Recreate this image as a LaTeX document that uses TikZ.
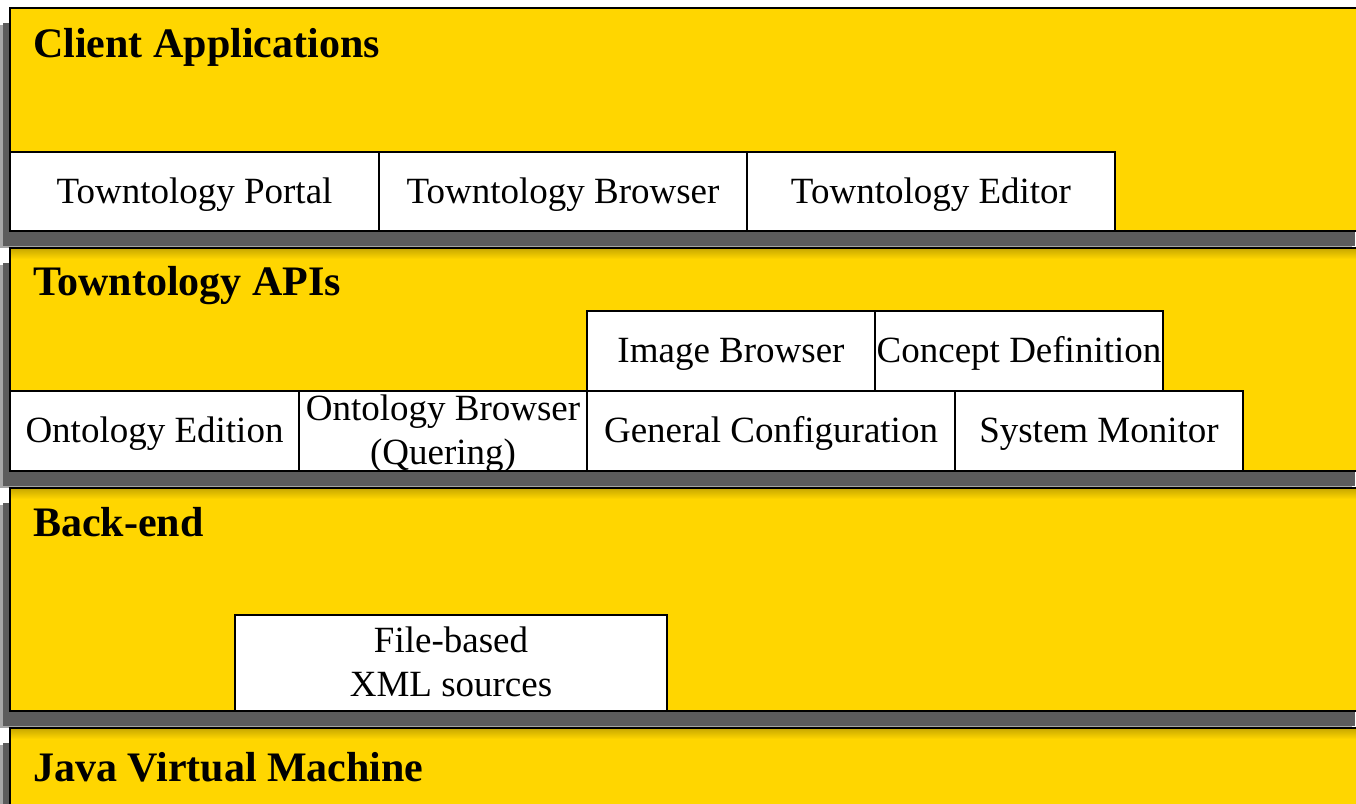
\documentclass[tikz,border=0pt]{standalone}
\usepackage{fontspec}
\setmainfont{Liberation Serif}
\usetikzlibrary{shadows}
\definecolor{layeryellow}{RGB}{255,214,0}
\tikzstyle{layer} = [draw=black, line width=1.6pt, fill=layeryellow, anchor=north west, inner sep=0pt, outer sep=0pt,
    drop shadow={shadow xshift=-10pt, shadow yshift=-17pt, fill=black!35, opacity=1},
    drop shadow={shadow xshift=-7pt, shadow yshift=-15pt, fill=black!64, opacity=1}]
\tikzstyle{module} = [draw=black, line width=1.6pt, fill=white, anchor=north west, inner sep=0pt, outer sep=0pt,
    align=center, text height=28pt, text depth=5pt, font=\fontsize{37}{44}\selectfont]
\tikzstyle{twolines} = [text height=72pt]
\tikzstyle{title} = [anchor=base west, inner sep=0pt, font=\fontsize{42}{50}\selectfont\bfseries]
\newcommand{\topshade}[1]{\shade[top color=layeryellow!80!black, bottom color=layeryellow] ([xshift=1pt,yshift=-1pt]#1.north west) rectangle ([xshift=-1pt,yshift=-11pt]#1.north east);}

\begin{document}
\begin{tikzpicture}[x=1pt, y=-1pt]
            \useasboundingbox (0,0) rectangle (1356,803);
            \clip (0,0) rectangle (1356,803);
            \fill[white] (0,0) rectangle (1356,803);
            % layers
            \node[layer, minimum width=1352, minimum height=223] (client) at (10,8) {};
            \node[title] (clienttitle) at (33,57) {Client Applications};
            \node[module, minimum width=369, minimum height=79] (portal) at (10,152) {Towntology Portal};
            \node[module, minimum width=368, minimum height=79] (browser) at (379,152) {Towntology Browser};
            \node[module, minimum width=368, minimum height=79] (editor) at (747,152) {Towntology Editor};

            \node[layer, minimum width=1352, minimum height=223] (apis) at (10,248) {};
            \topshade{apis}
            \node[title] (apistitle) at (33,295) {Towntology APIs};
            \node[module, minimum width=288, minimum height=80] (imgbrowser) at (587,311) {Image Browser};
            \node[module, minimum width=288, minimum height=80] (concept) at (875,311) {Concept Definition};
            \node[module, minimum width=289, minimum height=80] (edition) at (10,391) {Ontology Edition};
            \node[module, twolines, minimum width=288, minimum height=80] (ontbrowser) at (299,391) {Ontology Browser\\(Quering)};
            \node[module, minimum width=368, minimum height=80] (config) at (587,391) {General Configuration};
            \node[module, minimum width=288, minimum height=80] (monitor) at (955,391) {System Monitor};

            \node[layer, minimum width=1352, minimum height=223] (backend) at (10,488) {};
            \topshade{backend}
            \node[title] (backendtitle) at (33,536) {Back-end};
            \node[module, twolines, minimum width=432, minimum height=96] (xml) at (235,615) {File-based\\XML sources};

            \node[layer, minimum width=1352, minimum height=120] (jvm) at (10,728) {};
            \topshade{jvm}
            \node[title] (jvmtitle) at (33,781) {Java Virtual Machine};
            \end{tikzpicture}
\end{document}
